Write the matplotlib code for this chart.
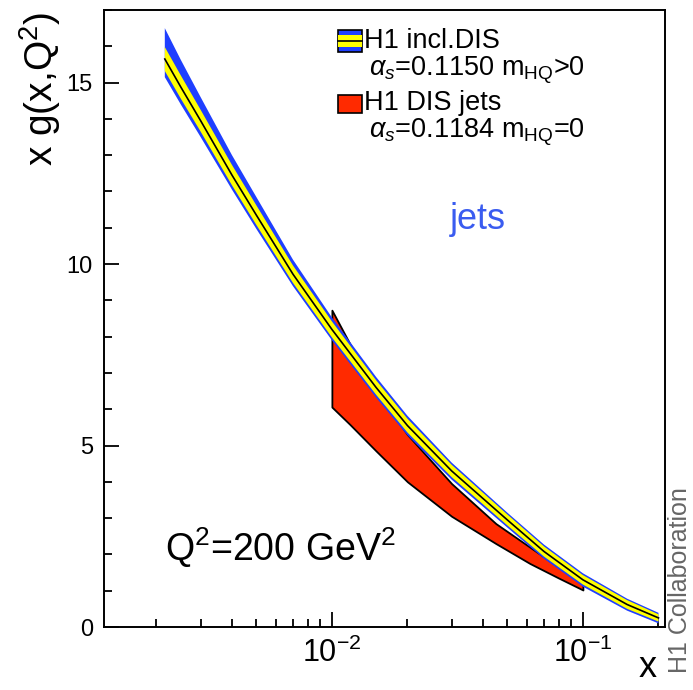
import matplotlib
matplotlib.use("Agg")
import matplotlib.pyplot as plt
from matplotlib.patches import Rectangle
from matplotlib.ticker import LogLocator, MultipleLocator, NullFormatter, FixedLocator, FixedFormatter

# H1 inclusive DIS fit at Q^2 = 200 GeV^2: central gluon, exp. band, total band
x_dis = [0.00216, 0.0025, 0.003, 0.004, 0.005, 0.007, 0.01, 0.015, 0.02,
         0.03, 0.05, 0.07, 0.1, 0.15, 0.2]
g_dis = [15.65, 14.88, 13.95, 12.45, 11.35, 9.72, 8.2, 6.6, 5.55,
         4.3, 2.95, 2.08, 1.3, 0.62, 0.25]
exp_err = [0.33, 0.32, 0.3, 0.28, 0.27, 0.24, 0.22, 0.2, 0.19,
           0.17, 0.15, 0.14, 0.13, 0.12, 0.1]
tot_up = [0.85, 0.75, 0.65, 0.55, 0.5, 0.4, 0.33, 0.29, 0.27,
          0.23, 0.2, 0.19, 0.18, 0.16, 0.14]
tot_dn = [0.5, 0.48, 0.45, 0.4, 0.38, 0.33, 0.3, 0.28, 0.27,
          0.24, 0.21, 0.2, 0.19, 0.17, 0.15]

# H1 DIS + jets fit, valid range 0.01 < x < 0.1
x_jet = [0.01, 0.0118, 0.015, 0.02, 0.03, 0.045, 0.0615, 0.08, 0.1]
jet_up = [8.73, 7.8, 6.5, 5.3, 3.95, 2.85, 2.2, 1.65, 1.2]
jet_lo = [6.06, 5.58, 4.85, 4.0, 3.05, 2.3, 1.75, 1.35, 1.02]

BLUE = "#1f3fff"
YELLOW = "#ffff00"
RED = "#ff2a00"

plt.rcParams.update({
    "font.family": ["Liberation Sans", "DejaVu Sans"],
    "mathtext.fontset": "custom",
    "mathtext.rm": "Liberation Sans",
    "mathtext.it": "Liberation Sans:italic",
    "mathtext.bf": "Liberation Sans:bold",
})

fig = plt.figure(figsize=(6.93, 6.90), dpi=100)
ax = fig.add_axes([0.150, 0.0913, 0.8096, 0.8942])

up_tot = [g + e for g, e in zip(g_dis, tot_up)]
lo_tot = [g - e for g, e in zip(g_dis, tot_dn)]
up_exp = [g + e for g, e in zip(g_dis, exp_err)]
lo_exp = [g - e for g, e in zip(g_dis, exp_err)]

ax.fill_between(x_jet, jet_lo, jet_up, facecolor=RED, edgecolor="black",
                linewidth=1.3, zorder=1)
ax.fill_between(x_dis, lo_tot, up_tot, facecolor=BLUE, edgecolor="none", zorder=2)
ax.fill_between(x_dis, lo_exp, up_exp, facecolor=YELLOW, edgecolor="none", zorder=3)
ax.plot(x_dis, g_dis, color="black", linewidth=1.2, zorder=4)

ax.set_xscale("log")
ax.set_xlim(1.236e-3, 0.2123)
ax.set_ylim(0, 17)

ax.xaxis.set_major_locator(FixedLocator([0.01, 0.1]))
ax.xaxis.set_major_formatter(FixedFormatter([r"$10^{-2}$", r"$10^{-1}$"]))
ax.xaxis.set_minor_locator(LogLocator(base=10, subs=range(2, 10)))
ax.xaxis.set_minor_formatter(NullFormatter())
ax.yaxis.set_major_locator(MultipleLocator(5))
ax.yaxis.set_minor_locator(MultipleLocator(1))

ax.tick_params(which="both", direction="in", top=False, right=False, width=1.3)
ax.tick_params(which="major", length=11)
ax.tick_params(which="minor", length=6)
ax.tick_params(axis="y", labelsize=17, pad=8)
ax.tick_params(axis="x", labelsize=22, pad=8)
for s in ax.spines.values():
    s.set_linewidth(1.4)

# legend block
tr = ax.transAxes
ax.add_patch(Rectangle((0.417, 0.932), 0.043, 0.036, transform=tr,
                       facecolor=BLUE, edgecolor="black", linewidth=1.2, zorder=6))
ax.add_patch(Rectangle((0.417, 0.9405), 0.043, 0.019, transform=tr,
                       facecolor=YELLOW, edgecolor="none", zorder=7))
ax.plot([0.417, 0.460], [0.950, 0.950], transform=tr, color="black",
        linewidth=1.2, zorder=8)
ax.add_patch(Rectangle((0.417, 0.833), 0.043, 0.029, transform=tr,
                       facecolor=RED, edgecolor="black", linewidth=1.2, zorder=6))

ax.text(0.464, 0.950, "H1 incl.DIS", transform=tr, fontsize=19.5,
        va="center", ha="left")
ax.text(0.472, 0.903, r"$\alpha_s$=0.1150 m$_{\mathrm{HQ}}$>0", transform=tr,
        fontsize=19.5, va="center", ha="left")
ax.text(0.464, 0.849, "H1 DIS jets", transform=tr, fontsize=19.5,
        va="center", ha="left")
ax.text(0.472, 0.802, r"$\alpha_s$=0.1184 m$_{\mathrm{HQ}}$=0", transform=tr,
        fontsize=19.5, va="center", ha="left")

ax.text(0.617, 0.66, "jets", transform=tr, fontsize=26, color="#3a5cf0",
        va="center", ha="left")
ax.text(0.109, 0.128, r"Q$^2$=200 GeV$^2$", transform=tr, fontsize=27,
        va="center", ha="left")

fig.text(0.058, 0.983, r"x g(x,Q$^2$)", rotation=90, fontsize=28,
         ha="center", va="top")
fig.text(0.935, 0.032, "x", fontsize=26, ha="center", va="center")
fig.text(0.981, 0.024, "H1 Collaboration", rotation=90, fontsize=18,
         color="#666666", ha="center", va="bottom")

fig.savefig("out.png", dpi=100)
